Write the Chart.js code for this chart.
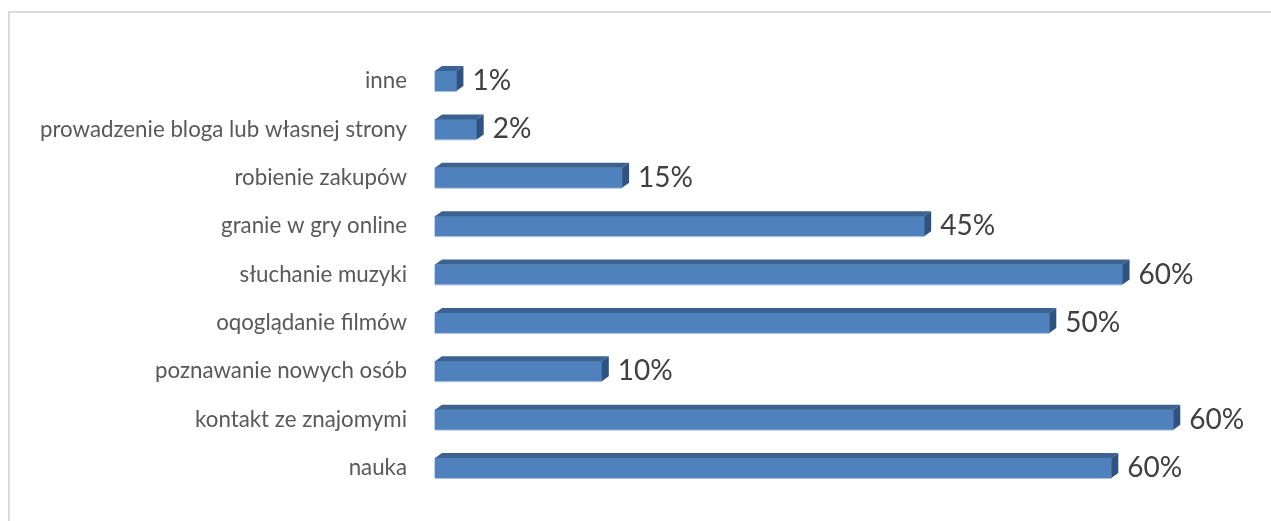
<!DOCTYPE html>
<html>
<head>
<meta charset="utf-8">
<script src="https://cdn.jsdelivr.net/npm/chart.js@4"></script>
<style>
  body { margin: 0; background: #fff; }
  #wrap { position: relative; width: 1271px; height: 521px; overflow: hidden; }
  #ramka { position: absolute; left: 8px; top: 11px; width: 1300px; height: 560px; border: 2px solid #dcdcdc; }
  canvas { position: absolute; left: 0; top: 0; }
</style>
</head>
<body>
<div id="wrap">
  <div id="ramka"></div>
  <canvas id="canvas_bar" width="1271" height="521"></canvas>
</div>
<script>
// kategorie od gory do dolu
var kategorie = [
  'inne',
  'prowadzenie bloga lub własnej strony',
  'robienie zakupów',
  'granie w gry online',
  'słuchanie muzyki',
  'oqoglądanie filmów',
  'poznawanie nowych osób',
  'kontakt ze znajomymi',
  'nauka'
];
// dlugosci slupkow
var wartosci = [1.9, 3.7, 16.6, 43.4, 61.0, 54.5, 14.8, 65.5, 60.0];
// etykiety wpisane przy slupkach
var etykiety = ['1%', '2%', '15%', '45%', '60%', '50%', '10%', '60%', '60%'];

var glebX = 7, glebY = 5;

// rysuje gorna i boczna sciane slupka + etykiete
var slupki3d = {
  id: 'slupki3d',
  afterDatasetsDraw: function(chart) {
    var ctx = chart.ctx;
    var meta = chart.getDatasetMeta(0);
    meta.data.forEach(function(bar, i) {
      var x0 = bar.base, x1 = bar.x;
      var yT = bar.y - bar.height / 2, yB = bar.y + bar.height / 2;
      ctx.save();
      ctx.fillStyle = '#3c6291';
      ctx.beginPath();
      ctx.moveTo(x0, yT);
      ctx.lineTo(x0 + glebX, yT - glebY);
      ctx.lineTo(x1 + glebX, yT - glebY);
      ctx.lineTo(x1, yT);
      ctx.closePath();
      ctx.fill();
      ctx.fillStyle = '#2f5380';
      ctx.beginPath();
      ctx.moveTo(x1, yT);
      ctx.lineTo(x1 + glebX, yT - glebY);
      ctx.lineTo(x1 + glebX, yB - glebY);
      ctx.lineTo(x1, yB);
      ctx.closePath();
      ctx.fill();
      ctx.strokeStyle = '#a9c0dd';
      ctx.lineWidth = 1;
      ctx.beginPath();
      ctx.moveTo(x0, yB + 0.5);
      ctx.lineTo(x1, yB + 0.5);
      ctx.stroke();
      ctx.fillStyle = '#404040';
      ctx.font = '28px Lato';
      ctx.textAlign = 'left';
      ctx.textBaseline = 'middle';
      ctx.fillText(etykiety[i], x1 + glebX + 9, bar.y);
      ctx.restore();
    });
  }
};

var ctx = document.getElementById('canvas_bar').getContext('2d');
window.myBar = new Chart(ctx, {
  type: 'bar',
  data: {
    labels: kategorie,
    datasets: [{
      data: wartosci,
      backgroundColor: '#4f81bd',
      borderWidth: 0,
      barThickness: 20,
      clip: false
    }]
  },
  options: {
    indexAxis: 'y',
    responsive: false,
    animation: false,
    layout: { padding: { top: 81, bottom: 53, left: 0, right: 47 } },
    plugins: {
      legend: { display: false },
      tooltip: { enabled: false }
    },
    scales: {
      x: {
        display: false,
        min: 0,
        max: 70
      },
      y: {
        offset: false,
        afterFit: function(scale) { scale.width = 435; },
        grid: { display: false, drawTicks: false },
        border: { display: false },
        ticks: {
          color: '#595959',
          font: { family: 'Lato', size: 22.3 },
          padding: 28
        }
      }
    }
  },
  plugins: [slupki3d]
});
</script>
</body>
</html>
